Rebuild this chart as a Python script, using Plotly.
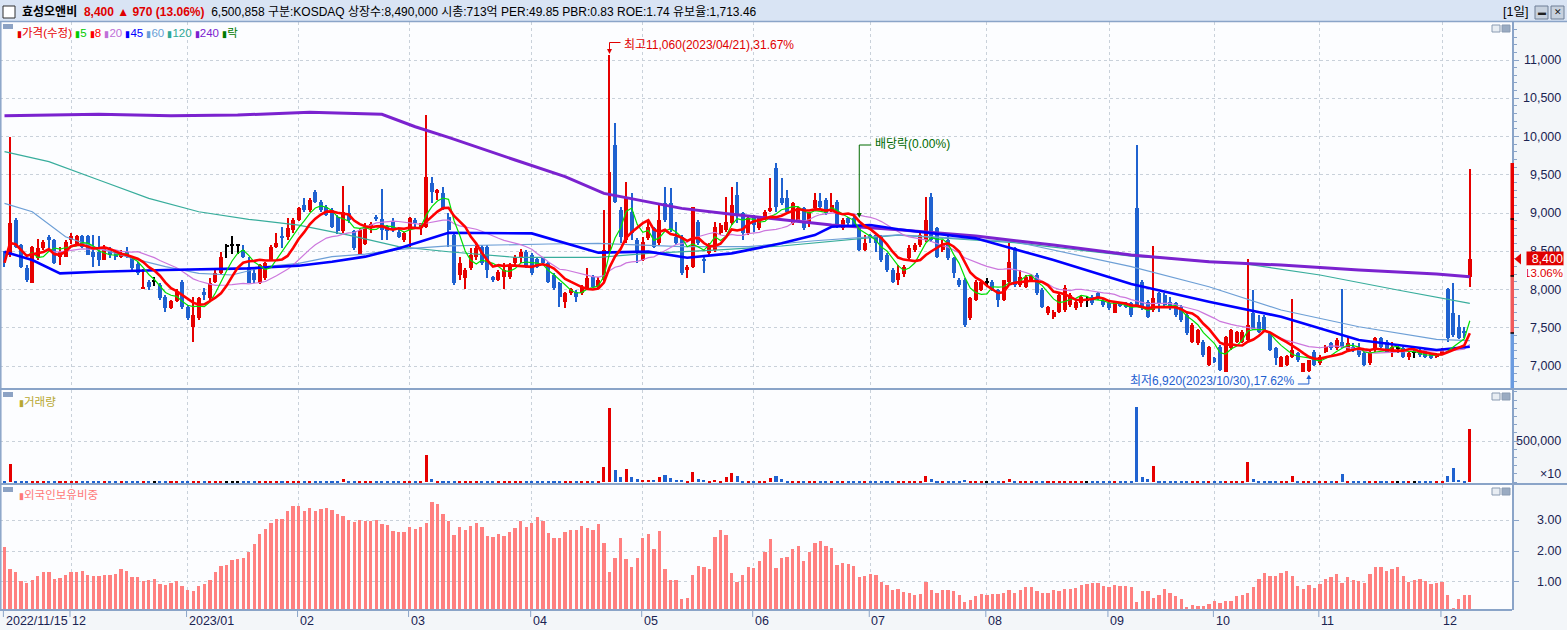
import plotly.graph_objects as go
import pandas as pd

# ---------------- data ----------------
month_idx = [0, 12, 33, 53, 73, 95, 115, 135, 156, 177, 199, 218, 237, 259]
month_labels = ["2022/11/15", "12", "2023/01", "02", "03", "04", "05", "06", "07", "08", "09", "10", "11", "12"]

opens = [8480, 8450, 8909, 8580, 8277, 8090, 8408, 8539, 8690, 8647,
         8430, 8430, 8647, 8582, 8705, 8700, 8494, 8494, 8390, 8530,
         8494, 8430, 8494, 8430, 8340, 8015, 8103, 8100, 8060, 7900,
         7754, 7850, 8100, 7775, 7514, 7630, 7970, 7885, 8100, 8212,
         8560, 8582, 8582, 8515, 8300, 8212, 8080, 8150, 8380, 8560,
         8700, 8690, 8780, 8910, 9105, 9040, 9280, 9150, 9080, 9040,
         8950, 8760, 9000, 8760, 8470, 8600, 8820, 8950, 8920, 8830,
         8887, 8756, 8647, 8778, 8910, 8800, 8820, 9390, 9260, 9260,
         8952, 8713, 8190, 8146, 8277, 8430, 8560, 8560, 8160, 8125,
         8168, 8168, 8342, 8408, 8495, 8450, 8395, 8408, 8342, 8190,
         8081, 7840, 7950, 7970, 7950, 8015, 8168, 8037, 8125, 8516,
         9889, 9039, 8647, 9017, 8647, 8385, 8669, 8800, 8603, 9127,
         9127, 8690, 8690, 8255, 8300, 8887, 8400, 8473, 8517, 8734,
         8778, 8865, 9235, 8996, 8734, 8930, 8800, 8930, 9039, 9584,
         9192, 9192, 8865, 8908, 9060, 8865, 9060, 9160, 9170, 9039,
         9148, 8800, 8930, 8930, 8800, 8516, 8713, 8713, 8690, 8450,
         8255, 8125, 8200, 8408, 8517, 8582, 8647, 9214, 8808, 8517,
         8647, 8408, 8124, 8124, 7623, 7863, 7994, 8090, 8102, 7994,
         7863, 8102, 8538, 8059, 8037, 8116, 8190, 7994, 7689, 7645,
         7710, 7732, 7798, 7754, 7819, 7863, 7906, 7950, 7854, 7819,
         7698, 7819, 7828, 7819, 9061, 8102, 7841, 7732, 7950, 7928,
         7841, 7819, 7776, 7667, 7318, 7297, 7318, 7013, 7100, 7253,
         6926, 7231, 7318, 7318, 7340, 7697, 7580, 7645, 7427, 7231,
         6992, 7013, 7122, 7166, 6926, 6935, 7188, 7035, 7188, 7297,
         7231, 7318, 7210, 7253, 7231, 7175, 7035, 7210, 7362, 7318,
         7210, 7231, 7231, 7122, 7175, 7210, 7210, 7166, 7122, 7157,
         8002, 7689, 7514, 7462, 8168]
highs = [8500, 10000, 8930, 8600, 8320, 8570, 8660, 8650, 8710, 8660,
         8560, 8650, 8740, 8710, 8715, 8710, 8710, 8700, 8580, 8560,
         8520, 8520, 8560, 8440, 8360, 8270, 8125, 8170, 8080, 7930,
         7860, 8010, 8120, 7800, 7900, 7905, 8015, 8150, 8280, 8495,
         8600, 8700, 8600, 8580, 8430, 8300, 8340, 8365, 8580, 8735,
         8820, 8930, 8930, 9083, 9192, 9192, 9300, 9170, 9100, 9060,
         8970, 9353, 9105, 8780, 8800, 8865, 8885, 8975, 9310, 8850,
         8930, 8780, 8756, 8950, 8930, 8865, 10281, 9475, 9320, 9335,
         8995, 8740, 8430, 8277, 8538, 8604, 8582, 8582, 8180, 8255,
         8342, 8342, 8450, 8525, 8517, 8473, 8416, 8430, 8364, 8211,
         8102, 7972, 8015, 7994, 8059, 8277, 8190, 8168, 9039, 11060,
         10172, 9083, 9410, 9257, 8669, 8690, 8887, 8821, 9105, 9344,
         9323, 8887, 8713, 8320, 9083, 8908, 8430, 8604, 8887, 8865,
         9214, 9344, 9410, 9017, 8952, 8974, 8952, 9039, 9453, 9649,
         9453, 9300, 9148, 9083, 9083, 9017, 9257, 9257, 9192, 9257,
         9170, 8930, 8952, 8974, 8822, 8713, 8730, 8735, 8713, 8473,
         8277, 8320, 8320, 8582, 8604, 8734, 9214, 9257, 8822, 8647,
         8734, 8430, 8146, 8146, 7906, 8124, 8124, 8146, 8124, 8002,
         8124, 8604, 8560, 8255, 8190, 8190, 8212, 8015, 7785, 7732,
         7950, 8059, 7950, 7863, 7928, 7915, 7928, 7972, 7885, 7841,
         7854, 7841, 7841, 7841, 9889, 8124, 7863, 8569, 7972, 7950,
         7906, 7841, 7798, 7689, 7558, 7480, 7340, 7262, 7122, 7275,
         7390, 7480, 7462, 7471, 8395, 7994, 7667, 7667, 7449, 7253,
         7131, 7140, 7872, 7188, 7044, 7079, 7210, 7144, 7275, 7318,
         7362, 8002, 7384, 7297, 7297, 7188, 7210, 7375, 7384, 7340,
         7318, 7262, 7253, 7188, 7210, 7231, 7220, 7175, 7166, 7231,
         8015, 8081, 7667, 7514, 9571]
lows = [8300, 8430, 8540, 8280, 8100, 8080, 8390, 8520, 8540, 8330,
        8320, 8420, 8600, 8570, 8540, 8450, 8300, 8310, 8380, 8410,
        8390, 8410, 8410, 8260, 8190, 8010, 7990, 8040, 7860, 7710,
        7750, 7840, 7750, 7600, 7318, 7600, 7860, 7840, 8080, 8190,
        8410, 8470, 8470, 8410, 8080, 8080, 8070, 8125, 8370, 8540,
        8540, 8650, 8735, 8890, 9017, 9017, 9127, 9017, 8960, 8800,
        8730, 8740, 8865, 8515, 8450, 8580, 8735, 8890, 8650, 8650,
        8755, 8670, 8625, 8560, 8800, 8713, 8800, 9127, 9170, 9040,
        8560, 8060, 8125, 8002, 8255, 8385, 8320, 8146, 8100, 8116,
        8002, 8133, 8320, 8342, 8277, 8190, 8277, 8320, 8081, 7994,
        7776, 7754, 7928, 7841, 7928, 7994, 8015, 8015, 8102, 8495,
        9127, 8604, 8604, 8647, 8342, 8377, 8647, 8538, 8582, 8887,
        8756, 8582, 8190, 8146, 8277, 8582, 8212, 8451, 8495, 8713,
        8756, 8843, 8865, 8647, 8713, 8756, 8778, 8908, 9017, 9017,
        9105, 8996, 8843, 8887, 8778, 8822, 9039, 9061, 8974, 9017,
        8800, 8778, 8843, 8800, 8508, 8508, 8604, 8495, 8364, 8233,
        8081, 8059, 8170, 8386, 8495, 8560, 8625, 8625, 8408, 8495,
        8386, 8146, 8037, 7514, 7602, 7854, 7985, 8037, 7985, 7776,
        7854, 8081, 8037, 8037, 8015, 8100, 7928, 7754, 7667, 7610,
        7689, 7710, 7776, 7732, 7776, 7767, 7797, 7863, 7776, 7732,
        7689, 7776, 7754, 7645, 7776, 7732, 7623, 7710, 7710, 7776,
        7732, 7645, 7580, 7405, 7297, 7275, 7122, 7004, 7035, 6940,
        6926, 7210, 7297, 7297, 7318, 7471, 7427, 7449, 7201, 7013,
        6985, 7004, 7100, 7057, 6926, 6920, 7004, 7013, 7166, 7210,
        7210, 7231, 7188, 7188, 7122, 7000, 7013, 7188, 7231, 7166,
        7122, 7166, 7100, 7079, 7100, 7122, 7100, 7090, 7100, 7144,
        7318, 7384, 7350, 7362, 8037]
closes = [8350, 8866, 8560, 8300, 8125, 8560, 8539, 8625, 8647, 8343,
          8494, 8620, 8700, 8700, 8560, 8450, 8430, 8385, 8560, 8450,
          8430, 8480, 8430, 8277, 8210, 8030, 8037, 8100, 7885, 7754,
          7850, 7970, 7775, 7625, 7667, 7885, 7930, 8080, 8212, 8430,
          8560, 8582, 8582, 8430, 8080, 8125, 8320, 8350, 8560, 8610,
          8670, 8800, 8910, 9062, 9040, 9170, 9150, 9040, 8980, 8820,
          8760, 9010, 8910, 8540, 8780, 8820, 8860, 8930, 8780, 8760,
          8780, 8690, 8743, 8930, 8865, 8865, 9475, 9280, 9300, 9060,
          8778, 8081, 8342, 8255, 8450, 8538, 8342, 8255, 8130, 8233,
          8255, 8320, 8430, 8495, 8300, 8212, 8290, 8342, 8102, 8015,
          7906, 7950, 8002, 7906, 8037, 8146, 8037, 8125, 8516, 9540,
          9148, 8690, 9214, 8734, 8473, 8625, 8821, 8560, 8908, 8908,
          8778, 8603, 8211, 8300, 9083, 8603, 8380, 8560, 8822, 8843,
          8887, 9105, 8974, 8734, 8930, 8843, 8930, 9017, 9060, 9083,
          9127, 9017, 9127, 9060, 8800, 8996, 9170, 9083, 8996, 9105,
          8822, 8909, 8865, 8822, 8516, 8603, 8670, 8604, 8385, 8255,
          8102, 8212, 8300, 8538, 8582, 8713, 8909, 8647, 8430, 8604,
          8408, 8212, 8059, 7536, 7885, 8102, 8102, 8090, 8002, 7863,
          8124, 8364, 8059, 8168, 8168, 8177, 7950, 7776, 7776, 7710,
          7928, 8015, 7928, 7841, 7906, 7863, 7819, 7885, 7798, 7754,
          7841, 7797, 7776, 7667, 7798, 7754, 7645, 7885, 7819, 7798,
          7776, 7667, 7602, 7427, 7536, 7471, 7144, 7253, 7057, 6948,
          7384, 7471, 7449, 7449, 7536, 7480, 7449, 7471, 7210, 7100,
          7122, 7131, 7210, 7079, 7035, 7079, 7013, 7114, 7253, 7231,
          7340, 7253, 7297, 7210, 7144, 7013, 7188, 7362, 7253, 7188,
          7253, 7231, 7122, 7166, 7175, 7144, 7122, 7101, 7157, 7220,
          7362, 7405, 7362, 7430, 8400]
volumes = [15000, 220000, 14000, 13000, 14000, 15000, 14000, 13000, 14000, 13000,
           14000, 13000, 14000, 14000, 13000, 14000, 13000, 14000, 13000, 14000,
           13000, 14000, 13000, 14000, 13000, 14000, 13000, 12000, 14000, 13000,
           14000, 13000, 14000, 13000, 14000, 15000, 13000, 14000, 15000, 14000,
           13000, 13000, 12000, 14000, 13000, 14000, 15000, 14000, 15000, 14000,
           13000, 14000, 15000, 14000, 13000, 14000, 13000, 14000, 13000, 14000,
           15000, 35000, 14000, 13000, 14000, 15000, 13000, 14000, 13000, 14000,
           13000, 14000, 14000, 15000, 13000, 14000, 330000, 40000, 15000, 14000,
           15000, 14000, 15000, 14000, 15000, 14000, 13000, 14000, 13000, 14000,
           15000, 14000, 15000, 14000, 13000, 14000, 13000, 14000, 13000, 14000,
           15000, 14000, 13000, 14000, 15000, 16000, 14000, 15000, 185000, 900000,
           146000, 61000, 158000, 61000, 37000, 28000, 28000, 25000, 61000, 85000,
           49000, 25000, 25000, 14000, 122000, 37000, 25000, 14000, 25000, 14000,
           61000, 110000, 73000, 14000, 15000, 14000, 15000, 14000, 49000, 73000,
           37000, 15000, 14000, 15000, 14000, 13000, 15000, 14000, 13000, 14000,
           15000, 14000, 13000, 14000, 15000, 14000, 13000, 14000, 15000, 14000,
           13000, 14000, 15000, 14000, 13000, 15000, 73000, 37000, 14000, 13000,
           14000, 13000, 14000, 25000, 15000, 14000, 15000, 12000, 14000, 13000,
           14000, 37000, 14000, 15000, 14000, 13000, 14000, 13000, 14000, 13000,
           15000, 14000, 13000, 14000, 13000, 12000, 14000, 13000, 14000, 13000,
           14000, 13000, 14000, 15000, 920000, 61000, 37000, 195000, 15000, 14000,
           13000, 14000, 13000, 14000, 15000, 14000, 13000, 14000, 13000, 14000,
           15000, 14000, 13000, 15000, 244000, 37000, 14000, 13000, 14000, 15000,
           14000, 13000, 73000, 14000, 15000, 14000, 13000, 14000, 15000, 14000,
           13000, 98000, 14000, 13000, 14000, 15000, 14000, 13000, 14000, 13000,
           14000, 12000, 14000, 13000, 12000, 14000, 13000, 14000, 15000, 14000,
           73000, 171000, 25000, 12000, 647000]
foreign = [2.14, 1.42, 1.32, 1.03, 0.97, 1.07, 1.20, 1.32, 1.32, 1.10,
           1.13, 1.23, 1.32, 1.32, 1.36, 1.23, 1.20, 1.20, 1.23, 1.23,
           1.26, 1.42, 1.36, 1.16, 1.16, 1.03, 1.07, 1.10, 0.94, 0.90,
           0.97, 1.03, 0.87, 0.74, 0.71, 0.87, 0.94, 1.07, 1.32, 1.52,
           1.55, 1.71, 1.75, 1.78, 1.97, 2.23, 2.56, 2.72, 2.91, 3.04,
           3.04, 3.30, 3.46, 3.46, 3.30, 3.40, 3.30, 3.37, 3.40, 3.33,
           3.20, 3.14, 3.01, 2.94, 3.01, 2.98, 2.98, 3.01, 2.88, 2.85,
           2.65, 2.62, 2.62, 2.78, 2.72, 2.78, 2.91, 3.59, 3.53, 3.20,
           2.98, 2.52, 2.78, 2.69, 2.82, 2.91, 2.78, 2.49, 2.46, 2.56,
           2.49, 2.62, 2.75, 2.98, 2.78, 2.91, 3.11, 2.98, 2.59, 2.43,
           2.43, 2.62, 2.69, 2.69, 2.82, 2.75, 2.69, 2.88, 2.26, 1.32,
           1.78, 2.43, 1.75, 1.49, 1.78, 2.43, 2.56, 2.07, 2.65, 1.42,
           1.06, 1.06, 0.45, 0.48, 1.23, 1.52, 1.49, 1.42, 2.46, 2.69,
           2.52, 1.29, 1.00, 1.23, 1.49, 1.45, 1.68, 1.97, 2.39, 1.45,
           1.78, 1.81, 2.07, 2.17, 1.68, 1.97, 2.26, 2.33, 2.17, 2.10,
           1.55, 1.62, 1.58, 1.52, 1.16, 1.20, 1.26, 1.23, 1.00, 0.90,
           0.74, 0.77, 0.68, 0.64, 0.58, 0.61, 1.00, 0.74, 0.64, 0.74,
           0.74, 0.71, 0.58, 0.35, 0.42, 0.55, 0.61, 0.58, 0.61, 0.61,
           0.64, 0.74, 0.64, 0.74, 0.84, 0.84, 0.71, 0.64, 0.64, 0.74,
           0.71, 0.77, 0.77, 0.81, 0.90, 0.94, 0.97, 0.97, 0.87, 0.84,
           0.90, 0.87, 0.87, 0.84, 0.35, 0.71, 0.71, 0.48, 0.58, 0.77,
           0.64, 0.55, 0.45, 0.19, 0.25, 0.22, 0.22, 0.29, 0.38, 0.32,
           0.38, 0.38, 0.55, 0.58, 0.64, 0.84, 1.10, 1.29, 1.20, 1.20,
           1.29, 1.36, 1.20, 0.87, 0.77, 0.90, 0.81, 0.94, 1.10, 1.16,
           1.26, 0.97, 1.16, 1.06, 1.03, 0.97, 1.26, 1.49, 1.49, 1.36,
           1.42, 1.49, 1.20, 1.00, 1.06, 1.10, 1.03, 0.94, 0.97, 1.00,
           0.58, 0.16, 0.45, 0.58, 0.58]

# long moving averages (index, value)
ma45_idx = [0, 5, 10, 17, 29, 44, 53, 59, 65, 71, 80, 95, 107, 116, 123, 131, 140, 146, 149, 156, 161, 175, 189, 203, 217, 230, 244, 258, 264]
ma45_val = [8494, 8386, 8211, 8233, 8255, 8277, 8312, 8364, 8430, 8538, 8743, 8734, 8482, 8495, 8416, 8473, 8604, 8712, 8821, 8843, 8787, 8669, 8386, 8072, 7841, 7645, 7340, 7210, 7253]
ma60_idx = [0, 5, 11, 17, 23, 29, 35, 41, 47, 53, 59, 65, 71, 80, 98, 107, 122, 134, 146, 161, 182, 203, 217, 230, 244, 258, 264]
ma60_val = [9126, 9017, 8690, 8538, 8408, 8299, 8212, 8190, 8299, 8342, 8430, 8464, 8525, 8570, 8595, 8604, 8560, 8560, 8638, 8715, 8625, 8299, 8037, 7732, 7514, 7349, 7331]
ma120_idx = [0, 8, 17, 26, 35, 44, 53, 62, 71, 80, 92, 107, 116, 128, 140, 152, 161, 182, 203, 223, 237, 251, 264]
ma120_val = [9802, 9671, 9431, 9192, 9017, 8917, 8843, 8712, 8560, 8494, 8421, 8421, 8473, 8516, 8569, 8656, 8712, 8612, 8438, 8342, 8190, 7994, 7819]
ma240_idx = [0, 17, 30, 42, 55, 65, 68, 74, 80, 92, 101, 108, 116, 122, 131, 140, 149, 161, 175, 189, 203, 217, 230, 244, 258, 264]
ma240_val = [10272, 10290, 10272, 10281, 10316, 10303, 10290, 10128, 9989, 9693, 9475, 9257, 9148, 9061, 8983, 8909, 8843, 8780, 8699, 8582, 8451, 8364, 8320, 8255, 8203, 8168]

price_ticks = [7000, 7500, 8000, 8500, 9000, 9500, 10000, 10500, 11000]
vol_tick = 500000
foreign_ticks = [1.0, 2.0, 3.0]
div_idx = 154

# ---------------- helpers (pixel layout) ----------------
PW = 1512.0
def px2x(px):
    return px / PW
def py2y(py):
    return (610.0 - py) / 588.0
P_TOP, P_BOT = 11497.0, 6713.0
def P(py):  # pixel row -> price (main panel)
    return P_TOP - (py - 22.0) * (P_TOP - P_BOT) / 366.0
IDXPX = 5.55

FONT = "Liberation Sans, Noto Sans CJK KR, sans-serif"
UP, DN, FLAT = "#e60000", "#1f62d0", "#000000"
GRID = "#c9d1da"
EDGE = "#8aa4c8"
NAVY = "#1a2352"

N = len(closes)
idx = list(range(N))
cols = [UP if c > o else (DN if c < o else FLAT) for o, c in zip(opens, closes)]

s = pd.Series(closes, dtype=float)
ma5 = s.rolling(5, min_periods=1).mean()
ma8 = s.rolling(8, min_periods=1).mean()
ma20 = s.rolling(20, min_periods=1).mean()

fig = go.Figure()

# candles: wicks and bodies
fig.add_trace(go.Bar(x=idx, y=[h - l for h, l in zip(highs, lows)], base=lows, width=0.2,
                     marker=dict(color=cols, line=dict(width=0)), xaxis="x", yaxis="y", hoverinfo="skip"))
fig.add_trace(go.Bar(x=idx, y=[max(abs(c - o), 12) for o, c in zip(opens, closes)],
                     base=[min(o, c) for o, c in zip(opens, closes)], width=0.72,
                     marker=dict(color=cols, line=dict(width=0)), xaxis="x", yaxis="y"))

# moving averages
def add_line(x, y, color, w):
    fig.add_trace(go.Scatter(x=x, y=list(y), mode="lines", line=dict(color=color, width=w),
                             xaxis="x", yaxis="y", hoverinfo="skip"))

add_line(ma120_idx, ma120_val, "#38ad9c", 1.2)
add_line(ma60_idx, ma60_val, "#6d9fd6", 1.2)
add_line(idx, ma20, "#cc77dd", 1.2)
add_line(ma240_idx, ma240_val, "#7b22cf", 3)
add_line(ma45_idx, ma45_val, "#0000ff", 2.6)
add_line(idx, ma5, "#00e000", 1.2)
add_line(idx, ma8, "#ff0000", 2.6)

# volume
fig.add_trace(go.Bar(x=idx, y=volumes, width=0.55, marker=dict(color=cols, line=dict(width=0)),
                     xaxis="x2", yaxis="y2"))
# foreign ownership
fig.add_trace(go.Bar(x=idx, y=foreign, width=0.6, marker=dict(color="#ff8080", line=dict(width=0)),
                     xaxis="x3", yaxis="y3"))

xcommon = dict(range=[-0.81, 271.6], showticklabels=False, tickvals=month_idx[1:], showgrid=True,
               gridcolor=GRID, griddash="dot", gridwidth=1, zeroline=False, ticks="", showline=False)
ycommon = dict(side="right", showticklabels=False, ticks="outside", tickcolor=EDGE, ticklen=5,
               showgrid=True, gridcolor=GRID, griddash="dot", gridwidth=1, showline=True,
               linecolor=EDGE, linewidth=2, zeroline=False)

fig.update_layout(
    width=1567, height=630, margin=dict(l=0, r=55, t=22, b=20, pad=0),
    paper_bgcolor="#f3f6f9", plot_bgcolor="#fcfdff", showlegend=False,
    barmode="overlay", bargap=0,
    xaxis=dict(domain=[0, 1], anchor="y", **xcommon),
    xaxis2=dict(domain=[0, 1], anchor="y2", matches="x", **xcommon),
    xaxis3=dict(domain=[0, 1], anchor="y3", matches="x", **xcommon),
    yaxis=dict(domain=[py2y(388), 1], anchor="x", range=[P_BOT, P_TOP], tickvals=price_ticks,
               minor=dict(tickmode="linear", tick0=0, dtick=100, ticklen=3, ticks="outside",
                          tickcolor=EDGE, showgrid=False), **ycommon),
    yaxis2=dict(domain=[py2y(483), py2y(390)], anchor="x2", range=[-12000, 1122000],
                tickvals=[vol_tick],
                minor=dict(tickmode="linear", tick0=0, dtick=100000, ticklen=3, ticks="outside",
                           tickcolor=EDGE, showgrid=False), **ycommon),
    yaxis3=dict(domain=[0, py2y(485)], anchor="x3", range=[0.092, 4.144], tickvals=foreign_ticks,
                **ycommon),
    font=dict(family=FONT, color=NAVY),
)

shapes = []
ann = []

def rect_px(x0, y0, x1, y1, fill, line=None, lw=0):
    shapes.append(dict(type="rect", xref="paper", yref="paper", x0=px2x(x0), x1=px2x(x1),
                       y0=py2y(y1), y1=py2y(y0), fillcolor=fill,
                       line=dict(color=line or fill, width=lw), layer="above"))

def line_px(x0, y0, x1, y1, color, w=1):
    shapes.append(dict(type="line", xref="paper", yref="paper", x0=px2x(x0), x1=px2x(x1),
                       y0=py2y(y0), y1=py2y(y1), line=dict(color=color, width=w), layer="above"))

def text_px(x, y, t, color=NAVY, size=12, anchor="left", **kw):
    ann.append(dict(xref="paper", yref="paper", x=px2x(x), y=py2y(y), text=t, showarrow=False,
                    xanchor=anchor, yanchor="middle", font=dict(family=FONT, size=size, color=color), **kw))

# header
rect_px(0, 0, 1567, 21, "#d9e4f4")
line_px(0, 21.5, 1567, 21.5, EDGE, 1.5)
rect_px(3, 6, 15, 18, "#ffffff", "#303030", 1)
hdr = ("<b>효성오앤비</b>&nbsp;&nbsp;<span style='color:#e00000'><b>8,400&nbsp;▲&nbsp;970&nbsp;(13.06%)</b></span>"
       "&nbsp;&nbsp;6,500,858&nbsp;구분:KOSDAQ&nbsp;상장수:8,490,000&nbsp;시총:713억&nbsp;PER:49.85"
       "&nbsp;PBR:0.83&nbsp;ROE:1.74&nbsp;유보율:1,713.46")
text_px(20, 12, hdr, "#000000", 12)
text_px(1501, 11.5, "[1일]", "#000000", 12.5)
for bx in (1535, 1551):
    rect_px(bx, 6, bx + 13, 19, "#c7d1de", "#6f7f96", 1)
text_px(1541.5, 12, "▬", "#202020", 8, anchor="center")
text_px(1557.5, 12.5, "✕", "#202020", 9, anchor="center")

# panel separators / frame
line_px(0, 389, 1567, 389, EDGE, 2)
line_px(0, 484, 1567, 484, EDGE, 2)
line_px(0, 610, 1512, 610, EDGE, 2)
line_px(0.8, 22, 0.8, 610, EDGE, 1.5)

# panel corner buttons and title squares
for top in (23, 391, 486):
    rect_px(1492, top + 2, 1500, top + 9, "#e8edf3", "#8a9bb2", 1)
    rect_px(1502, top + 2, 1510, top + 9, "#9aabc2", "#8a9bb2", 1)
    rect_px(3, top + 1, 13, top + 6, "#8ca2c4")

# main legend (one flowing line)
legend = [("가격(수정)", "#e60000"), ("5", "#00cc00"), ("8", "#ff0000"),
          ("20", "#c070d8"), ("45", "#0000ff"), ("60", "#6a9fd6"),
          ("120", "#2fa896"), ("240", "#7b22cf"), ("락", "#007a00")]
leg = "&nbsp;".join(f"<span style='color:{c}'><span style='font-size:9px'>▮</span>{t}</span>" for t, c in legend)
text_px(15, 32.5, leg, "#000000", 11.5)
text_px(17, 401.5, "<span style='font-size:9px'>▮</span>거래량", "#b8a832", 11.5)
text_px(17, 495, "<span style='font-size:9px'>▮</span>외국인보유비중", "#ff7878", 11.5)

# right-axis tick labels
def rlab(yref, v, t):
    ann.append(dict(xref="paper", yref=yref, x=px2x(1563), y=v, text=t, showarrow=False,
                    xanchor="right", yanchor="middle", font=dict(family=FONT, size=12.5, color=NAVY)))
for v in price_ticks:
    rlab("y", v, f"{v:,}")
rlab("y2", vol_tick, f"{vol_tick:,}")
rlab("y2", 100000, "×10")
for v in foreign_ticks:
    rlab("y3", v, f"{v:.2f}")

# x-axis labels and tick marks
for i, lab in zip(month_idx, month_labels):
    shapes.append(dict(type="line", xref="x3", yref="paper", x0=i - 0.2, x1=i - 0.2,
                       y0=py2y(611), y1=py2y(617), line=dict(color="#8aa4c8", width=1)))
    ann.append(dict(xref="x3", yref="paper", x=i, y=py2y(621), text=lab, showarrow=False,
                    xanchor="left", yanchor="middle", xshift=-1,
                    font=dict(family=FONT, size=12.5, color=NAVY)))

# right axis band and current price marker
last = closes[-1]
prev = closes[-2]
band = [(9654, 8177, "#e80000"), (8177, 7432, "#f05a5a"), (7432, P_BOT, "#6a9be0")]
for a, b, c in band:
    shapes.append(dict(type="rect", xref="paper", yref="y", x0=px2x(1510.5), x1=px2x(1514),
                       y0=b, y1=a, fillcolor=c, line=dict(width=0), layer="above"))
for v in (8922, 8177, 7432):
    shapes.append(dict(type="line", xref="paper", yref="y", x0=px2x(1510.5), x1=px2x(1514),
                       y0=v, y1=v, line=dict(color="#000000", width=1.5), layer="above"))
tri_h = (P_TOP - P_BOT) / 366.0 * 5.5
shapes.append(dict(type="path", xref="paper", yref="y",
                   path=f"M {px2x(1514.5)},{last} L {px2x(1521)},{last + tri_h} L {px2x(1521)},{last - tri_h} Z",
                   fillcolor="#e00000", line=dict(width=0), layer="above"))
# price box drawn as annotation so it sits over the 8,500 tick label like the original
ann.append(dict(xref="paper", yref="y", x=px2x(1564), y=last, text=f"{last:,}", showarrow=False,
                xanchor="right", yanchor="middle", bgcolor="#e00000", width=36, height=13,
                align="right", borderpad=0, font=dict(family=FONT, size=12.5, color="#ffffff")))
pct = (last - prev) / prev * 100
ann.append(dict(xref="paper", yref="y", x=px2x(1564), y=last - tri_h * 2.45, text=f"{pct:.2f}%",
                showarrow=False, xanchor="right", yanchor="middle", bgcolor="#ffffff", width=36,
                height=13, align="right", borderpad=0,
                font=dict(family=FONT, size=11.5, color="#e00000")))

# max / min / dividend markers
hi_v = max(highs); hi_i = highs.index(hi_v)
lo_v = min(lows); lo_i = lows.index(lo_v)
dx = 1.0 / IDXPX
RED_T = "#e00000"
shapes.append(dict(type="line", xref="x", yref="y", x0=hi_i, x1=hi_i, y0=P(42.5), y1=P(50),
                   line=dict(color=RED_T, width=1)))
shapes.append(dict(type="line", xref="x", yref="y", x0=hi_i, x1=hi_i + 11 * dx, y0=P(42.5), y1=P(42.5),
                   line=dict(color=RED_T, width=1)))
shapes.append(dict(type="path", xref="x", yref="y",
                   path=f"M {hi_i - 2.5 * dx},{P(49)} L {hi_i + 2.5 * dx},{P(49)} L {hi_i},{P(54)} Z",
                   fillcolor=RED_T, line=dict(width=0)))
ann.append(dict(xref="x", yref="y", x=hi_i, y=P(45), xshift=12,
                text=f"최고{hi_v:,}(2023/04/21),{(hi_v - last) / last * 100:.2f}%",
                showarrow=False, xanchor="left", yanchor="middle", font=dict(family=FONT, size=12, color=RED_T)))

BLU_T = "#1f5fcf"
shapes.append(dict(type="line", xref="x", yref="y", x0=lo_i - 11 * dx, x1=lo_i, y0=P(384), y1=P(384),
                   line=dict(color=BLU_T, width=1)))
shapes.append(dict(type="line", xref="x", yref="y", x0=lo_i, x1=lo_i, y0=P(384), y1=P(378),
                   line=dict(color=BLU_T, width=1)))
shapes.append(dict(type="path", xref="x", yref="y",
                   path=f"M {lo_i - 2.5 * dx},{P(379)} L {lo_i + 2.5 * dx},{P(379)} L {lo_i},{P(374.5)} Z",
                   fillcolor=BLU_T, line=dict(width=0)))
ann.append(dict(xref="x", yref="y", x=lo_i, y=P(381), xshift=-12,
                text=f"최저{lo_v:,}(2023/10/30),{(last - lo_v) / last * 100:.2f}%",
                showarrow=False, xanchor="right", yanchor="middle", font=dict(family=FONT, size=12, color=BLU_T)))

GRN_T = "#006a00"
shapes.append(dict(type="line", xref="x", yref="y", x0=div_idx, x1=div_idx, y0=P(145), y1=P(213),
                   line=dict(color=GRN_T, width=1)))
shapes.append(dict(type="line", xref="x", yref="y", x0=div_idx, x1=div_idx + 12 * dx, y0=P(145), y1=P(145),
                   line=dict(color=GRN_T, width=1)))
shapes.append(dict(type="path", xref="x", yref="y",
                   path=f"M {div_idx - 2.5 * dx},{P(213)} L {div_idx + 2.5 * dx},{P(213)} L {div_idx},{P(218)} Z",
                   fillcolor=GRN_T, line=dict(width=0)))
ann.append(dict(xref="x", yref="y", x=div_idx, y=P(144), xshift=14, text="배당락(0.00%)",
                showarrow=False, xanchor="left", yanchor="middle", font=dict(family=FONT, size=12, color=GRN_T)))

fig.update_layout(shapes=shapes, annotations=ann)
fig.write_html("out.html", config={"displayModeBar": False},
               post_script="document.body.style.margin='0px';document.body.style.overflow='hidden';")
